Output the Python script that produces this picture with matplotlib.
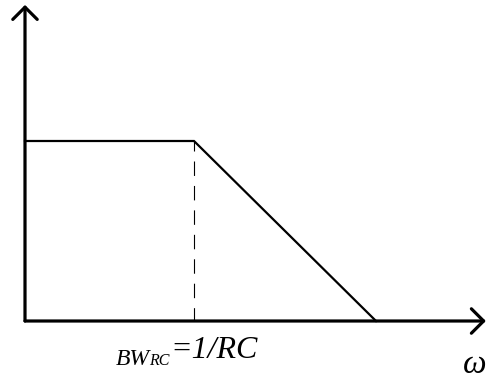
import matplotlib
matplotlib.use("Agg")
import matplotlib.pyplot as plt

# Normalised frequency response (omega in units of 1/RC, gain in units of passband gain)
freq = [0.0, 1.0, 2.077]
gain = [1.0, 1.0, 0.0]
cutoff = 1.0
x_axis_end = 2.727
y_axis_end = 1.756

W, H = 487, 381
fig = plt.figure(figsize=(W / 100, H / 100), dpi=100)
ax = fig.add_axes([0, 0, 1, 1])
ax.set_xlim(-25 / 169, (W - 25) / 169)
ax.set_ylim(-(H - 321) / 180, 321 / 180)
ax.axis("off")

arrow_kw = dict(arrowstyle="->,head_length=0.4,head_width=0.4", lw=2.3,
                color="black", mutation_scale=22, shrinkA=0, shrinkB=0)
ax.annotate("", xy=(x_axis_end, 0), xytext=(0, 0), arrowprops=arrow_kw)
ax.annotate("", xy=(0, y_axis_end), xytext=(0, 0), arrowprops=arrow_kw)

ax.plot(freq, gain, color="black", lw=1.6, solid_joinstyle="miter")
ax.plot([cutoff, cutoff], [gain[1], 0], color="black", lw=0.8, ls=(4, (13, 9)))

serif = ["Liberation Serif", "DejaVu Serif"]
def px(x, y):
    return x / W, 1 - y / H

fig.text(*px(116, 365), "BW", fontsize=17, style="italic", family=serif, va="baseline")
fig.text(*px(149, 365), "RC", fontsize=11.5, style="italic", family=serif, va="baseline")
fig.text(*px(170, 358), "=1/RC", fontsize=23, style="italic", family=serif, va="baseline")
fig.text(*px(463, 373), "ω", fontsize=24, style="italic", family=serif, va="baseline")

fig.savefig("out.png", dpi=100)
